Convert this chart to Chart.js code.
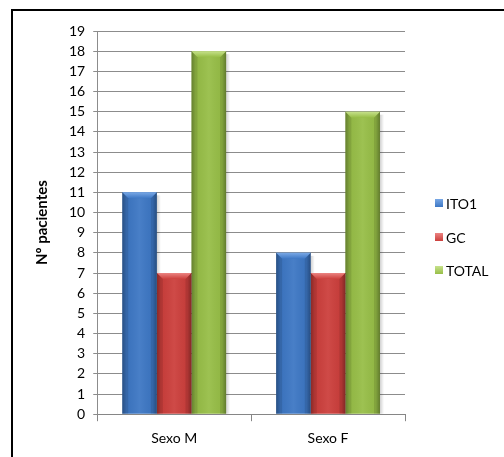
<!DOCTYPE html>
<html>
<head>
<meta charset="utf-8">
<script src="https://cdn.jsdelivr.net/npm/chart.js@4.4.1/dist/chart.umd.min.js"></script>
<style>
  html, body { margin: 0; padding: 0; background: #fff; }
  #wrap { position: relative; width: 504px; height: 457px; overflow: hidden; }
  #frame { position: absolute; left: 11px; top: 9px; right: -10px; bottom: -10px;
           border-top: 2px solid #000; border-left: 2px solid #000; pointer-events: none; }
  canvas { position: absolute; left: 0; top: 0; }
</style>
</head>
<body>
<div id="wrap">
  <canvas id="c" width="504" height="457"></canvas>
  <div id="frame"></div>
</div>
<script>
const categories = ['Sexo M', 'Sexo F'];
const seriesNames = ['ITO1', 'GC', 'TOTAL'];
const ito1 = [11, 8];
const gc = [7, 7];
const total = [18, 15];
const yTicks = { min: 0, max: 19, step: 1 };

const FONT = 'Lato, "Open Sans", sans-serif';
const palette = [
  { base: '#3d77c4', dark: '#234f8c', light: '#79a8e6' },
  { base: '#cc3f3c', dark: '#8e2624', light: '#eb8482' },
  { base: '#97be47', dark: '#667f2c', light: '#c7e28c' }
];

// Soft shadow to the right of each bar plus bevel shading on top
const bevel = {
  id: 'bevel',
  beforeDatasetsDraw(chart) {
    const ctx = chart.ctx;
    ctx.save();
    chart.data.datasets.forEach((ds, di) => {
      chart.getDatasetMeta(di).data.forEach(bar => {
        const w = bar.width, x1 = bar.x + w / 2;
        const g = ctx.createLinearGradient(x1, 0, x1 + 4, 0);
        g.addColorStop(0, 'rgba(0,0,0,0.18)');
        g.addColorStop(1, 'rgba(0,0,0,0)');
        ctx.fillStyle = g;
        ctx.fillRect(x1, bar.y + 3, 4, bar.base - bar.y - 3);
      });
    });
    ctx.restore();
  },
  afterDatasetsDraw(chart) {
    const ctx = chart.ctx;
    chart.data.datasets.forEach((ds, di) => {
      const meta = chart.getDatasetMeta(di);
      const p = palette[di];
      meta.data.forEach(bar => {
        const w = bar.width, x0 = bar.x - w / 2, x1 = bar.x + w / 2;
        const top = bar.y, bot = bar.base, h = bot - top;
        ctx.save();
        const g = ctx.createLinearGradient(x0, 0, x1, 0);
        g.addColorStop(0, 'rgba(0,0,0,0.25)');
        g.addColorStop(0.12, 'rgba(0,0,0,0.04)');
        g.addColorStop(0.5, 'rgba(255,255,255,0.06)');
        g.addColorStop(0.88, 'rgba(0,0,0,0.04)');
        g.addColorStop(1, 'rgba(0,0,0,0.28)');
        ctx.fillStyle = g;
        ctx.fillRect(x0, top, w, h);
        const b = 6;
        ctx.beginPath();
        ctx.moveTo(x0, top);
        ctx.lineTo(x1, top);
        ctx.lineTo(x1 - b, top + b);
        ctx.lineTo(x0 + b, top + b);
        ctx.closePath();
        const tg = ctx.createLinearGradient(0, top, 0, top + b);
        tg.addColorStop(0, p.light);
        tg.addColorStop(1, p.base);
        ctx.fillStyle = tg;
        ctx.fill();
        ctx.fillStyle = 'rgba(0,0,0,0.1)';
        ctx.beginPath();
        ctx.moveTo(x0, top); ctx.lineTo(x0 + b, top + b); ctx.lineTo(x0 + b, bot); ctx.lineTo(x0, bot);
        ctx.closePath(); ctx.fill();
        ctx.beginPath();
        ctx.moveTo(x1, top); ctx.lineTo(x1 - b, top + b); ctx.lineTo(x1 - b, bot); ctx.lineTo(x1, bot);
        ctx.closePath(); ctx.fill();
        ctx.restore();
      });
    });
  }
};

// Legend on the right side, drawn with the dataset colours and labels
const sideLegend = {
  id: 'sideLegend',
  afterDraw(chart) {
    const ctx = chart.ctx;
    const ys = [203, 237, 270];
    ctx.save();
    ctx.font = '14px ' + FONT;
    ctx.textBaseline = 'middle';
    chart.data.datasets.forEach((ds, i) => {
      const y = ys[i];
      const p = palette[i];
      const g = ctx.createLinearGradient(0, y - 4, 0, y + 4);
      g.addColorStop(0, p.light);
      g.addColorStop(1, p.base);
      ctx.fillStyle = g;
      ctx.fillRect(435, y - 4, 8, 8);
      ctx.fillStyle = '#000';
      ctx.fillText(ds.label, 446, y + 1);
    });
    ctx.restore();
  }
};

new Chart(document.getElementById('c'), {
  type: 'bar',
  data: {
    labels: categories,
    datasets: [
      { label: seriesNames[0], data: ito1, backgroundColor: palette[0].base },
      { label: seriesNames[1], data: gc, backgroundColor: palette[1].base },
      { label: seriesNames[2], data: total, backgroundColor: palette[2].base }
    ]
  },
  options: {
    responsive: false,
    animation: false,
    devicePixelRatio: 1,
    categoryPercentage: 0.675,
    barPercentage: 1,
    layout: { padding: { left: 33, right: 99, top: 31, bottom: 1 } },
    plugins: { legend: { display: false }, tooltip: { enabled: false } },
    scales: {
      x: {
        grid: { offset: true, drawOnChartArea: false, color: '#868686', tickLength: 7 },
        border: { color: '#868686' },
        ticks: { font: { family: FONT, size: 14 }, color: '#000', padding: 9 }
      },
      y: {
        min: yTicks.min, max: yTicks.max,
        grid: { color: '#8c8c8c', tickLength: 4 },
        border: { color: '#8c8c8c' },
        ticks: { stepSize: yTicks.step, font: { family: FONT, size: 14 }, color: '#000', padding: 8 },
        title: { display: true, text: 'Nº pacientes', font: { family: FONT, size: 15, weight: 'bold' }, color: '#000', padding: { top: 0, bottom: 10 } }
      }
    }
  },
  plugins: [bevel, sideLegend]
});
</script>
</body>
</html>
